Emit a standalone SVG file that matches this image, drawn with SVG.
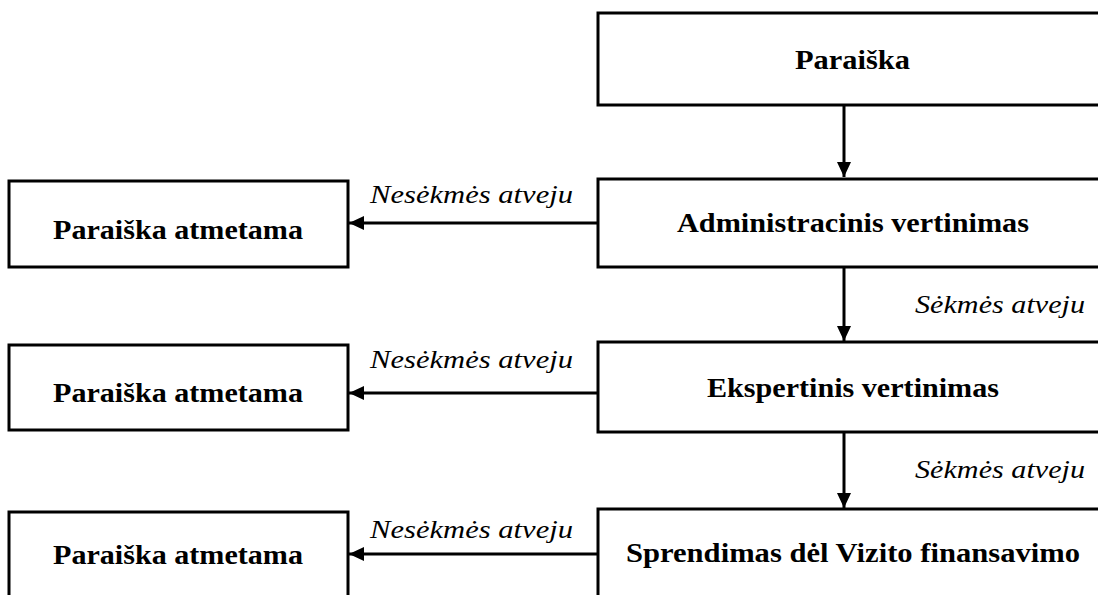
<svg xmlns="http://www.w3.org/2000/svg" width="1098" height="595" viewBox="0 0 1098 595">
<style>
.box{fill:#fff;stroke:#000;stroke-width:3}
.t{font-family:"Liberation Serif","Times New Roman",serif;font-weight:bold;font-size:27px;fill:#000}
.lbl{font-family:"Liberation Serif","Times New Roman",serif;font-style:italic;font-size:25px;fill:#000}
.c{stroke:#000;stroke-width:3;fill:none;marker-end:url(#ah)}
</style>
<defs>
<marker id="ah" markerUnits="userSpaceOnUse" markerWidth="15" markerHeight="14" refX="15" refY="7" orient="auto">
<path d="M0,0 L15,7 L0,14 Z" fill="#000"/>
</marker>
</defs>
<rect width="1098" height="595" fill="#fff"/>
<g id="connectors">
<line class="c" x1="844" y1="105" x2="844" y2="177"/>
<line class="c" x1="844" y1="267" x2="844" y2="341"/>
<line class="c" x1="844" y1="432" x2="844" y2="508"/>
<line class="c" x1="598" y1="223" x2="349" y2="223"/>
<line class="c" x1="598" y1="393" x2="349" y2="393"/>
<line class="c" x1="598" y1="554" x2="349" y2="554"/>
<text class="lbl" x="370" y="203" textLength="203" lengthAdjust="spacingAndGlyphs">Nesėkmės atveju</text>
<text class="lbl" x="370" y="368" textLength="203" lengthAdjust="spacingAndGlyphs">Nesėkmės atveju</text>
<text class="lbl" x="370" y="538" textLength="203" lengthAdjust="spacingAndGlyphs">Nesėkmės atveju</text>
<text class="lbl" x="915" y="313" textLength="170" lengthAdjust="spacingAndGlyphs">Sėkmės atveju</text>
<text class="lbl" x="915" y="478" textLength="170" lengthAdjust="spacingAndGlyphs">Sėkmės atveju</text>
</g>
<g id="n-paraiska">
<rect class="box" x="598" y="13" width="520" height="92"/>
<text class="t" x="795" y="69" textLength="115" lengthAdjust="spacingAndGlyphs">Paraiška</text>
</g>
<g id="n-admin">
<rect class="box" x="598" y="179" width="520" height="88"/>
<text class="t" x="677" y="232" textLength="352" lengthAdjust="spacingAndGlyphs">Administracinis vertinimas</text>
</g>
<g id="n-eksp">
<rect class="box" x="598" y="342" width="520" height="90"/>
<text class="t" x="707" y="397" textLength="292" lengthAdjust="spacingAndGlyphs">Ekspertinis vertinimas</text>
</g>
<g id="n-sprend">
<rect class="box" x="598" y="509" width="520" height="120"/>
<text class="t" x="626" y="562" textLength="454" lengthAdjust="spacingAndGlyphs">Sprendimas dėl Vizito finansavimo</text>
</g>
<g id="n-atm1">
<rect class="box" x="9" y="181" width="339" height="86"/>
<text class="t" x="53" y="239" textLength="250" lengthAdjust="spacingAndGlyphs">Paraiška atmetama</text>
</g>
<g id="n-atm2">
<rect class="box" x="9" y="345" width="339" height="85"/>
<text class="t" x="53" y="402" textLength="250" lengthAdjust="spacingAndGlyphs">Paraiška atmetama</text>
</g>
<g id="n-atm3">
<rect class="box" x="9" y="512" width="339" height="120"/>
<text class="t" x="53" y="564" textLength="250" lengthAdjust="spacingAndGlyphs">Paraiška atmetama</text>
</g>
</svg>
